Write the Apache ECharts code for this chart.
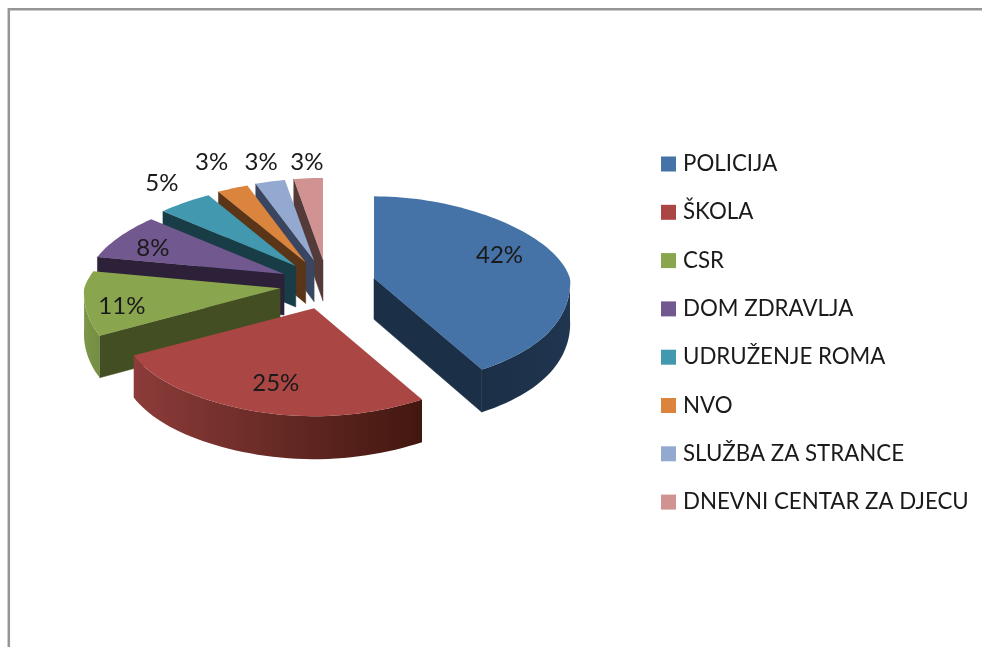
<!DOCTYPE html>
<html>
<head>
<meta charset="utf-8">
<style>html,body{margin:0;padding:0;background:#fff}#c{width:982px;height:647px}</style>
<script src="https://cdn.jsdelivr.net/npm/echarts@6/dist/echarts.min.js"></script>
</head>
<body>
<div id="c"></div>
<script>
const categories = ['POLICIJA','ŠKOLA','CSR','DOM ZDRAVLJA','UDRUŽENJE ROMA','NVO','SLUŽBA ZA STRANCE','DNEVNI CENTAR ZA DJECU'];
const values = [42,25,11,8,5,3,3,3];
const topColors = ['#4572A7','#AA4643','#89A54E','#71588F','#4198AF','#DB843D','#93A9CF','#D19392'];
const cutColors = ['#1b2f47','#42170f','#434f22','#2c2138','#183d47','#5a3517','#3a4660','#553a3a'];
const wallLeft  = ['#1b2f47','#8c3c3a','#7c9648','#2c2138','#183d47','#5a3517','#3a4660','#553a3a'];
const wallRight = ['#20354f','#42170f','#748d42','#2c2138','#183d47','#5a3517','#3a4660','#553a3a'];
const paintOrder = [8,9,7,6,5,4,3,2];
const labelFx = [0.69,0.60,0.81,0.80,1.21,1.29,1.21,1.10];
const labelFy = [1.05,0.73,1.20,0.68,1.30,1.35,1.25,1.20];

const total = values.reduce((a,b)=>a+b,0);
const CX = 327.5, CY = 284.5, EX = 48, EY = 24.7;
const FONT = 'Lato';
const rx = v => v >= 0 ? 196 - 30*v - 11*v*v : 196 - 6.5*v + 29*v*v;
const ry = v => 93 - 11*v + (v < 0 ? 4*Math.pow(v,8) : 0);
const depth = v => 41 - 2*v;
const rad = d => d*Math.PI/180;

function rim(apex, deg){
  const u = Math.sin(rad(deg)), v = Math.cos(rad(deg));
  return {x: apex[0] + rx(v)*u, y: apex[1] - ry(v)*v, d: depth(v)};
}
function arc(apex, a0, a1){
  const pts = [], n = Math.max(2, Math.ceil(Math.abs(a1-a0)/2));
  for(let i=0;i<=n;i++) pts.push(rim(apex, a0+(a1-a0)*i/n));
  return pts;
}
function renderItem(params, api){
  const idx = params.seriesIndex;
  let before = 0;
  for(let i=0;i<idx;i++) before += values[i];
  const a0 = before/total*360, a1 = (before+api.value(0))/total*360, mid = (a0+a1)/2;
  const mu = Math.sin(rad(mid)), mv = Math.cos(rad(mid));
  const apex = [CX + EX*mu, CY - EY*mv];
  const dA = depth(0);
  const kids = [];
  const face = (p) => kids.push({type:'polygon', shape:{points:[
      apex,[p.x,p.y],[p.x,p.y+p.d],[apex[0],apex[1]+dA]]},
      style:{fill:cutColors[idx], stroke:cutColors[idx], lineWidth:0.5}});
  if(a0 >= 180) face(rim(apex,a0));
  if(a1 <= 180) face(rim(apex,a1));
  const w0 = Math.max(a0,90), w1 = Math.min(a1,270);
  if(w1 > w0){
    const top = arc(apex,w0,w1);
    const pts = top.map(p=>[p.x,p.y]).concat(top.slice().reverse().map(p=>[p.x,p.y+p.d]));
    kids.push({type:'polygon', shape:{points:pts}, style:{
      fill:{type:'linear',x:0,y:0,x2:1,y2:0,colorStops:[{offset:0,color:wallLeft[idx]},{offset:1,color:wallRight[idx]}]}}});
  }
  const rimPts = arc(apex,a0,a1).map(p=>[p.x,p.y]);
  kids.push({type:'polygon', shape:{points:[apex].concat(rimPts)}, style:{fill:topColors[idx]}});
  kids.push({type:'text', style:{
    text: Math.round(api.value(0)/total*100)+'%',
    x: apex[0] + rx(mv)*mu*labelFx[idx],
    y: apex[1] - ry(mv)*mv*labelFy[idx],
    align:'center', verticalAlign:'middle',
    font:'24px '+FONT, fill:'#1a1a1a'}});
  return {type:'group', children:kids};
}

const chart = echarts.init(document.getElementById('c'), null, {renderer:'canvas'});
chart.setOption({
  animation:false,
  backgroundColor:'#ffffff',
  legend:{
    orient:'vertical', left:661, top:153, padding:0,
    itemWidth:15, itemHeight:15, itemGap:26.3,
    icon:'rect',
    data:categories.map((n,i)=>({name:n,itemStyle:{color:topColors[i]}})),
    selectedMode:false,
    textStyle:{fontFamily:FONT,fontSize:22.3,color:'#1a1a1a',padding:[0,0,0,2]}
  },
  graphic:[{type:'polyline',silent:true,z:1,shape:{points:[[8.8,650],[8.8,9.2],[985,9.2]]},
    style:{stroke:'#969696',lineWidth:2.5,fill:null}}],
  series:categories.map((n,i)=>({
    type:'custom', name:n, coordinateSystem:'none', z:paintOrder[i],
    itemStyle:{color:topColors[i]},
    renderItem, data:[[values[i]]], silent:true
  }))
});
</script>
</body>
</html>
